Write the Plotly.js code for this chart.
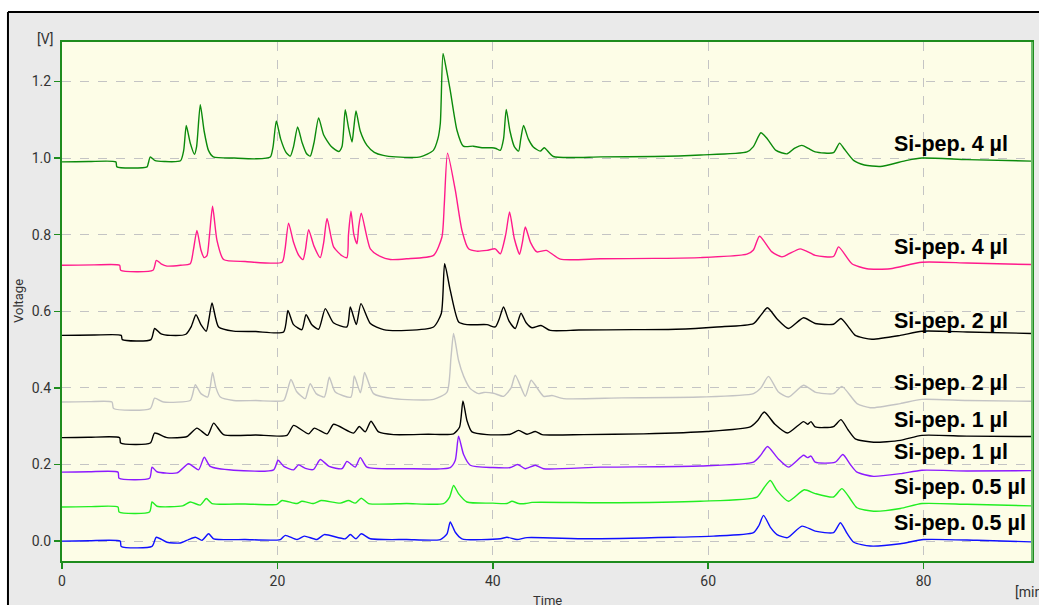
<!DOCTYPE html>
<html>
<head>
<meta charset="utf-8">
<script src="https://cdn.plot.ly/plotly-3.0.1.min.js"></script>
<style>html,body{margin:0;padding:0;background:#fff;}#chart{width:1039px;height:605px;}</style>
</head>
<body>
<div id="chart"></div>
<script>
// ---- Data (time in min, signal in V) ----
var seriesNames = ["Si-pep. 4 µl", "Si-pep. 4 µl", "Si-pep. 2 µl", "Si-pep. 2 µl",
                   "Si-pep. 1 µl", "Si-pep. 1 µl", "Si-pep. 0.5 µl", "Si-pep. 0.5 µl"];

var t1 = [0,2.5,5.0,5.1,7.9,8.0,8.2,8.6,9.5,11.0,11.3,11.54,11.9,12.3,12.5,12.84,13.2,13.6,14.05,16,18,19.34,19.6,19.9,20.3,20.8,21.2,21.5,21.88,22.3,22.7,23.05,23.4,23.83,24.3,25.0,25.7,26.0,26.3,26.6,26.93,27.1,27.3,27.7,28.32,29.0,29.83,31,33.27,34.48,34.9,35.13,35.38,35.7,36.05,36.68,37.26,38.19,39.0,39.93,40.3,40.7,41.0,41.25,41.6,42.0,42.4,42.6,42.86,43.3,43.76,44.41,44.78,45.62,50,55,59.3,63.6,64.2,64.9,65.5,66.3,67.32,68.0,68.71,69.3,69.94,71.64,72.2,72.6,73.5,74.5,75.98,78.46,79.85,84.03,90];
var v1 = [0.990,0.991,0.990,0.977,0.977,0.985,1.003,0.994,0.991,0.993,1.02,1.085,1.04,1.010,1.03,1.139,1.07,1.02,1.003,1.000,0.998,1.003,1.03,1.097,1.05,1.015,1.005,1.03,1.081,1.04,1.012,1.005,1.04,1.105,1.06,1.030,1.017,1.03,1.126,1.08,1.042,1.08,1.123,1.07,1.033,1.015,1.007,1.003,1.003,1.020,1.05,1.091,1.273,1.23,1.177,1.072,1.031,1.031,1.027,1.027,1.025,1.020,1.05,1.127,1.07,1.03,1.018,1.05,1.085,1.05,1.029,1.018,1.027,1.004,1.003,1.004,1.008,1.016,1.03,1.066,1.05,1.02,1.011,1.025,1.033,1.025,1.016,1.014,1.039,1.025,0.994,0.982,0.978,0.994,1.000,0.996,0.992];

var t2 = [0,3,5.35,5.45,8.45,8.76,9.2,9.75,11.0,11.91,12.2,12.53,12.9,13.2,13.46,13.7,13.98,14.39,15.0,17,20.43,20.7,21.04,21.5,22.0,22.38,22.6,22.9,23.4,23.98,24.3,24.61,25.22,26.0,26.46,26.6,26.83,27.1,27.39,27.55,27.79,28.63,29.55,30.48,32,34.5,35.28,35.5,35.8,36.52,37.14,37.75,38.5,39.46,40.23,40.7,41.2,41.56,42.0,42.49,42.75,43.02,43.5,44.1,44.97,46.27,50,55,59.27,63.6,64.2,64.77,65.92,66.85,68.55,69.94,71.64,72.11,73.35,74.74,76.9,79.85,84.03,90];
var v2 = [0.720,0.721,0.720,0.707,0.707,0.733,0.724,0.718,0.720,0.724,0.76,0.811,0.76,0.740,0.745,0.80,0.874,0.785,0.735,0.730,0.728,0.76,0.830,0.78,0.745,0.735,0.76,0.813,0.77,0.740,0.78,0.842,0.768,0.745,0.740,0.80,0.861,0.80,0.776,0.82,0.856,0.763,0.743,0.735,0.737,0.746,0.794,0.88,1.013,0.916,0.811,0.763,0.757,0.759,0.763,0.750,0.80,0.859,0.79,0.749,0.78,0.820,0.78,0.755,0.759,0.736,0.737,0.738,0.740,0.749,0.76,0.796,0.755,0.742,0.763,0.746,0.743,0.768,0.724,0.711,0.711,0.728,0.726,0.722];

var t3 = [0,3,5.5,5.6,8.26,8.6,9.2,10.06,11.5,12.0,12.44,12.9,13.4,13.65,13.93,14.54,15.93,18,20.58,20.98,21.5,22.28,22.66,23.2,23.83,24.45,25.2,26.46,26.77,27.33,27.76,28.63,29.86,32,34.5,35.22,35.53,36.05,36.83,37.6,39.46,40.23,40.6,41.0,41.5,42.09,42.62,43.1,43.64,44.48,45.34,48,53.07,57,60.82,64.21,64.9,65.51,66.4,67.46,68.86,69.94,71.64,72.33,73.0,73.66,75.21,77.84,79.85,84.03,90];
var v3 = [0.537,0.538,0.537,0.526,0.526,0.555,0.541,0.537,0.540,0.560,0.591,0.565,0.548,0.58,0.622,0.559,0.548,0.547,0.546,0.602,0.565,0.552,0.591,0.565,0.553,0.607,0.57,0.559,0.611,0.565,0.620,0.568,0.552,0.550,0.559,0.594,0.724,0.655,0.572,0.565,0.565,0.559,0.58,0.611,0.575,0.555,0.595,0.57,0.557,0.563,0.550,0.551,0.552,0.553,0.559,0.568,0.59,0.609,0.58,0.555,0.583,0.568,0.566,0.581,0.56,0.537,0.527,0.537,0.548,0.546,0.542];

var t4 = [0,2.5,4.64,4.79,8.2,8.6,9.43,11.91,12.1,12.38,12.9,13.52,13.75,13.98,14.3,14.7,15.93,18,20.58,20.9,21.26,21.8,22.59,22.8,23.05,23.6,24.35,24.6,24.82,25.38,26.83,27.14,27.7,27.9,28.1,28.93,30.79,34.5,35.75,36.12,36.36,36.82,37.3,37.91,38.68,39.15,40.07,41.0,41.7,42.09,43.02,43.3,43.57,44.72,45.5,46.57,52,59.27,64.21,64.9,65.6,66.5,67.46,68.86,69.94,71.64,72.42,73.82,75.05,77.84,79.85,84.03,90];
var v4 = [0.363,0.364,0.363,0.346,0.346,0.373,0.363,0.367,0.38,0.408,0.385,0.376,0.40,0.440,0.40,0.376,0.367,0.367,0.367,0.39,0.422,0.39,0.372,0.39,0.411,0.385,0.376,0.40,0.428,0.389,0.376,0.431,0.387,0.41,0.440,0.385,0.372,0.370,0.389,0.480,0.542,0.472,0.430,0.398,0.385,0.388,0.386,0.378,0.40,0.433,0.378,0.40,0.420,0.378,0.380,0.372,0.374,0.376,0.385,0.40,0.430,0.39,0.376,0.407,0.389,0.385,0.404,0.359,0.348,0.359,0.370,0.367,0.365];

var t5 = [0,2.5,5.35,5.45,8.2,8.6,9.75,11.61,12.53,13.52,14.08,15.0,18,20.89,21.5,22.9,23.43,24.61,25.22,27.08,27.6,28.16,28.69,29.4,30.79,34,36.36,36.92,37.23,37.6,38.07,39.46,41.63,42.4,43.18,43.95,44.57,48.43,54,59.89,63.91,64.6,65.21,66.2,67.37,68.86,69.23,69.55,69.94,71.64,72.33,73.0,73.66,75.36,77.84,79.85,84.03,90];
var v5 = [0.270,0.271,0.270,0.256,0.256,0.282,0.270,0.273,0.295,0.276,0.308,0.278,0.277,0.276,0.302,0.280,0.295,0.280,0.305,0.282,0.299,0.285,0.313,0.285,0.278,0.279,0.280,0.298,0.366,0.315,0.285,0.278,0.279,0.289,0.279,0.286,0.278,0.278,0.280,0.286,0.298,0.315,0.337,0.305,0.282,0.312,0.305,0.312,0.298,0.299,0.317,0.29,0.267,0.258,0.263,0.276,0.274,0.273];

var t6 = [0,2.5,5.2,5.3,8.13,8.36,8.82,10.68,11.75,12.68,13.21,13.77,15.93,19.65,20.06,20.6,21.5,21.97,22.6,23.36,23.98,24.8,26.0,26.46,27.23,27.7,28.32,32,36.05,36.52,36.82,37.29,37.91,40,41.63,42.31,43.02,43.95,44.72,50,59.27,64.21,64.9,65.51,66.5,67.46,68.86,69.23,69.55,69.94,71.8,72.51,73.2,73.82,75.36,77.84,79.85,84.03,90];
var v6 = [0.180,0.181,0.180,0.164,0.164,0.193,0.181,0.178,0.202,0.186,0.219,0.195,0.185,0.186,0.211,0.195,0.186,0.199,0.19,0.187,0.213,0.195,0.189,0.208,0.193,0.218,0.193,0.189,0.192,0.211,0.274,0.226,0.198,0.192,0.192,0.200,0.189,0.198,0.189,0.193,0.196,0.206,0.225,0.247,0.215,0.193,0.224,0.218,0.222,0.206,0.206,0.226,0.20,0.180,0.169,0.176,0.185,0.183,0.184];

var t7 = [0,2.5,5.2,5.3,8.13,8.36,8.82,11.2,11.91,12.84,13.4,13.93,17,19.96,20.43,21.82,22.28,23.36,24.05,25.84,26.61,27.23,27.79,28.47,32,35.43,35.99,36.36,36.82,37.6,40,41.32,41.78,42.4,43.05,43.64,50,59.27,64.53,65.2,65.77,66.39,67.46,68.92,69.94,71.64,72.42,73.2,73.82,75.36,77.84,79.85,84.03,90];
var v7 = [0.089,0.090,0.089,0.076,0.076,0.102,0.091,0.092,0.102,0.094,0.111,0.098,0.097,0.096,0.106,0.098,0.104,0.098,0.106,0.099,0.106,0.099,0.112,0.098,0.098,0.098,0.115,0.145,0.124,0.102,0.099,0.098,0.104,0.098,0.098,0.101,0.100,0.104,0.115,0.14,0.158,0.132,0.104,0.134,0.124,0.115,0.137,0.11,0.087,0.078,0.085,0.098,0.096,0.092];

var t8 = [0,2.5,5.4,5.5,8.36,8.76,9.75,10.98,11.75,12.38,13.0,13.61,14.08,17,20.27,20.73,21.82,22.5,23.68,24.35,26.3,26.77,27.3,27.79,28.63,32,35.13,35.75,36.05,36.52,37.14,40.7,41.32,42.25,43.18,48.75,56.79,60.5,64.21,64.7,65.14,65.8,66.39,67.37,68.71,69.94,71.64,72.28,72.9,73.52,75.05,77.84,80.0,84.96,90];
var v8 = [0.000,0.001,0.000,-0.014,-0.014,0.010,-0.003,-0.005,0.004,0.010,0.002,0.019,0.006,0.004,0.004,0.015,0.004,0.013,0.004,0.017,0.006,0.017,0.006,0.019,0.006,0.004,0.004,0.019,0.050,0.023,0.006,0.006,0.010,0.004,0.009,0.006,0.010,0.013,0.022,0.04,0.067,0.035,0.017,0.009,0.039,0.026,0.022,0.048,0.02,-0.003,-0.013,-0.007,0.004,0.002,-0.002];

var xTicks = [0, 20, 40, 60, 80];
var yTicks = [0.0, 0.2, 0.4, 0.6, 0.8, 1.0, 1.2];

// ---- Styling ----
var times = [t1,t2,t3,t4,t5,t6,t7,t8];
var volts = [v1,v2,v3,v4,v5,v6,v7,v8];
var lineColors = ['#0b8a0b','#ff1a8c','#000000','#c4c4c4','#000000','#8c1aff','#22ee22','#1010ff'];
var labelY = [1.038, 0.768, 0.574, 0.412, 0.315, 0.232, 0.141, 0.047];

var traces = times.map(function(t, i){
  return {x: t, y: volts[i], type: 'scatter', mode: 'lines', name: seriesNames[i],
          line: {color: lineColors[i], width: 1.4, shape: 'spline', smoothing: 0.6}, hoverinfo: 'skip'};
});

var annotations = seriesNames.map(function(n, i){
  return {x: 77.07, y: labelY[i], xref: 'x', yref: 'y', text: n, showarrow: false,
          xanchor: 'left', yanchor: 'middle',
          font: {family: 'Liberation Sans, Arial, sans-serif', size: 21.5, color: '#000', weight: 'bold'}};
});
var axFont = {family: 'Roboto, sans-serif', size: 14, color: '#333'};
annotations.push({x: -0.0175, y: 1.0058, xref: 'paper', yref: 'paper', text: '[V]', showarrow: false,
  xanchor: 'center', yanchor: 'middle', font: axFont});
annotations.push({x: -0.0443, y: 0.501, xref: 'paper', yref: 'paper', text: 'Voltage', showarrow: false,
  textangle: -90, xanchor: 'center', yanchor: 'middle', font: {family: 'Roboto, sans-serif', size: 13, color: '#333'}});
annotations.push({x: 0.5, y: -0.077, xref: 'paper', yref: 'paper', text: 'Time', showarrow: false,
  xanchor: 'center', yanchor: 'middle', font: {family: 'Roboto, sans-serif', size: 13, color: '#333'}});
annotations.push({x: 0.9804, y: -0.0588, xref: 'paper', yref: 'paper', text: '[min', showarrow: false,
  xanchor: 'left', yanchor: 'middle', font: axFont});

var frameX = -0.0557, frameY = 1.0578;
var shapes = [
  {type: 'rect', xref: 'paper', yref: 'paper', x0: -0.2, x1: 1.2, y0: frameY, y1: 1.3, fillcolor: '#ffffff', line: {width: 0}, layer: 'below'},
  {type: 'rect', xref: 'paper', yref: 'paper', x0: -0.2, x1: frameX, y0: -0.3, y1: 1.3, fillcolor: '#ffffff', line: {width: 0}, layer: 'below'},
  {type: 'line', xref: 'paper', yref: 'paper', x0: frameX, x1: frameX, y0: -0.3, y1: frameY, line: {color: '#000', width: 2}},
  {type: 'line', xref: 'paper', yref: 'paper', x0: frameX, x1: 1.2, y0: frameY, y1: frameY, line: {color: '#000', width: 2}},
  {type: 'line', xref: 'paper', yref: 'paper', x0: 1, x1: 1, y0: 0, y1: 1, line: {color: '#6cbc6c', width: 2}}
];

var layout = {
  width: 1039, height: 605,
  margin: {l: 62, r: 7, t: 42, b: 44, pad: 0},
  paper_bgcolor: '#eaeaea',
  plot_bgcolor: '#fdfde7',
  showlegend: false,
  xaxis: {range: [0, 90.07], tickvals: xTicks, ticktext: xTicks.map(String),
    showgrid: true, gridcolor: '#c4c4c4', griddash: 'dash', gridwidth: 1,
    zeroline: false, showline: true, linecolor: '#1e8c1e', linewidth: 2, mirror: true,
    ticks: 'outside', ticklen: 6, tickcolor: '#1e8c1e', tickwidth: 1.5, tickfont: axFont},
  yaxis: {range: [-0.052, 1.303], tickvals: yTicks, ticktext: yTicks.map(function(v){return v.toFixed(1);}),
    showgrid: true, gridcolor: '#c4c4c4', griddash: 'dash', gridwidth: 1,
    zeroline: false, showline: true, linecolor: '#1e8c1e', linewidth: 2, mirror: true,
    ticks: 'outside', ticklen: 6, tickcolor: '#1e8c1e', tickwidth: 1.5, tickfont: axFont},
  annotations: annotations,
  shapes: shapes
};

Plotly.newPlot('chart', traces, layout, {staticPlot: true, displayModeBar: false});
</script>
</body>
</html>
